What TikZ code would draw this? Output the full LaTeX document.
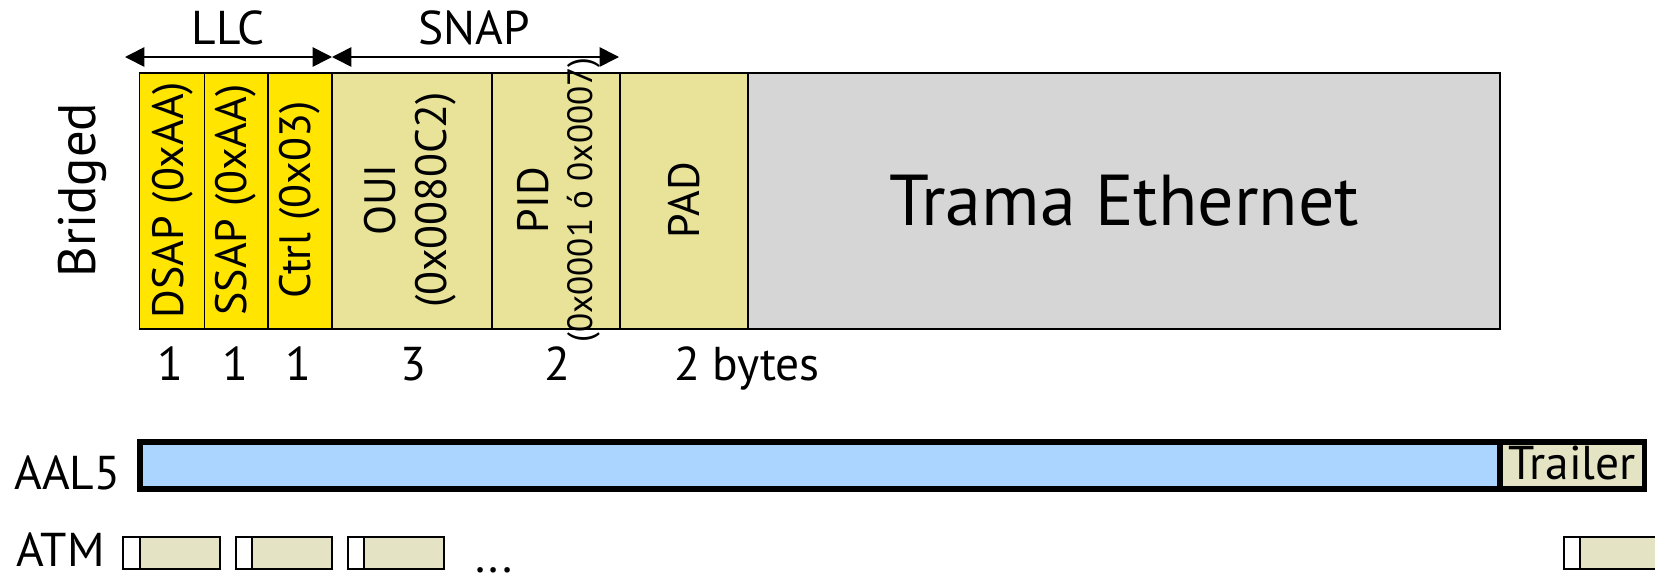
\documentclass[tikz,border=0pt]{standalone}
\usepackage{fontspec}
\setmainfont{PT Sans}
\usetikzlibrary{arrows.meta}
\definecolor{LlcClr}{rgb}{1,0.9,0}
\definecolor{SnapClr}{rgb}{0.91,0.89,0.6}
\definecolor{EthClr}{rgb}{0.84,0.84,0.84}
\definecolor{AalClr}{rgb}{0.67,0.835,1}
\definecolor{CellClr}{rgb}{0.894,0.894,0.77}

\begin{document}
\begin{tikzpicture}[x=0.02cm,y=-0.02cm,
  field/.style={draw=black,line width=1.1pt},
  thickbox/.style={draw=black,line width=3.1pt},
  vtxt/.style={rotate=90,align=center,font=\fontsize{25}{29}\selectfont},
  numtxt/.style={anchor=base,inner sep=0pt,font=\fontsize{27}{30}\selectfont},
  span/.style={{Triangle[length=11pt,width=11pt]}-{Triangle[length=11pt,width=11pt]},line width=0.9pt}]
\useasboundingbox (0,0) rectangle (1655,575);

\coordinate (llcL) at (125,57);
\coordinate (llcR) at (332,57);
\coordinate (snapR) at (619,57);

\draw[field,fill=LlcClr] (139.5,73) rectangle (204.5,329);
\draw[field,fill=LlcClr] (204.5,73) rectangle (268,329);
\draw[field,fill=LlcClr] (268,73) rectangle (332,329);
\draw[field,fill=SnapClr] (332,73) rectangle (492,329);
\draw[field,fill=SnapClr] (492,73) rectangle (620,329);
\draw[field,fill=SnapClr] (620,73) rectangle (748,329);
\draw[field,fill=EthClr] (748,73) rectangle (1500,329);

\draw[span] (llcL) -- (llcR);
\draw[span] (llcR) -- (snapR);
\node[numtxt] (llc) at (228,44) {LLC};
\node[numtxt] (snap) at (474,44) {SNAP};

\node[rotate=90,font=\fontsize{30}{34}\selectfont] (bridged) at (82,190) {Bridged};

\node[vtxt] (dsap) at (173,200) {DSAP (0xAA)};
\node[vtxt] (ssap) at (236,200) {SSAP (0xAA)};
\node[vtxt] (ctrl) at (300,200) {Ctrl (0x03)};
\node[vtxt] (oui) at (410,200) {OUI\\(0x0080C2)};
\node[vtxt,font=\fontsize{20}{25}\selectfont] (pid) at (559,200) {{\fontsize{25}{25}\selectfont PID}\\(0x0001 ó 0x0007)};
\node[vtxt] (pad) at (684,200) {PAD};
\node[font=\fontsize{41}{46}\selectfont] (eth) at (1124,201) {Trama Ethernet};

\node[numtxt] (n1) at (170,380) {1};
\node[numtxt] (n2) at (235,380) {1};
\node[numtxt] (n3) at (298,380) {1};
\node[numtxt] (n4) at (413,380) {3};
\node[numtxt] (n5) at (557,380) {2};
\node[numtxt,anchor=base west] (bytes) at (674,380) {2 bytes};

\node[numtxt,anchor=base west] (aal5) at (14,489) {AAL5};
\draw[thickbox,fill=AalClr] (140,442) rectangle (1500,489);
\draw[thickbox,fill=CellClr] (1500,442) rectangle (1644.5,489);
\node[anchor=base,inner sep=0pt,font=\fontsize{27}{30}\selectfont] (trailer) at (1572,479) {Trailer};

\node[numtxt,anchor=base west] (atm) at (16,566) {ATM};
\draw[field,fill=white] (123,537) rectangle (140,569);
\draw[field,fill=CellClr] (140,537) rectangle (220,569);
\draw[field,fill=white] (236,537) rectangle (252,569);
\draw[field,fill=CellClr] (252,537) rectangle (332,569);
\draw[field,fill=white] (348,537) rectangle (364,569);
\draw[field,fill=CellClr] (364,537) rectangle (444,569);
\draw[field,fill=white] (1564,537) rectangle (1580,569);
\draw[field,fill=CellClr] (1580,537) rectangle (1700,569);
\node[numtxt] (dots) at (494,572) {...};

\end{tikzpicture}
\end{document}
